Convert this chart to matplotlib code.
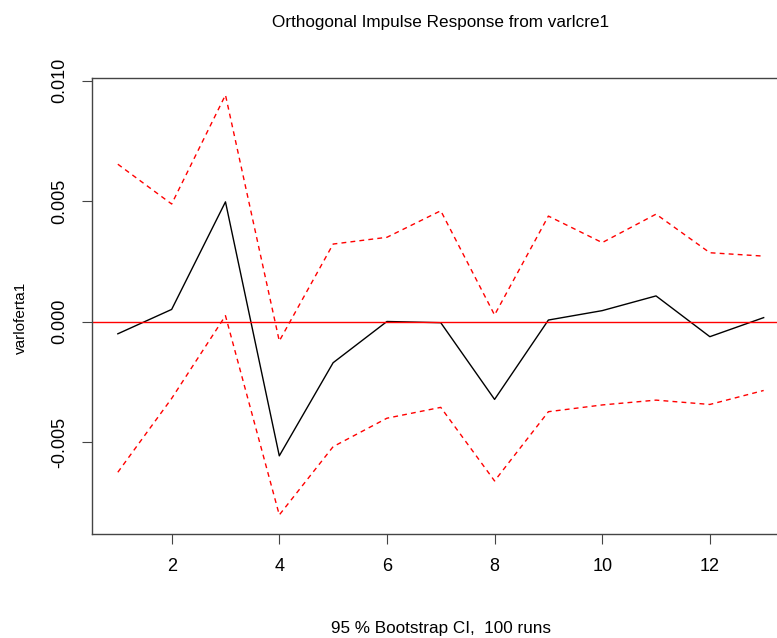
import matplotlib
matplotlib.use("Agg")
import matplotlib.pyplot as plt
import numpy as np

plt.rcParams['font.family'] = ['Liberation Sans', 'DejaVu Sans']

horizon = list(range(1, 14))
irf = [-0.00050, 0.00051, 0.00497, -0.00556, -0.00170, 0.00001, -0.00004,
       -0.00322, 0.00007, 0.00046, 0.00107, -0.00062, 0.00017]
upper = [0.00653, 0.00488, 0.00940, -0.00080, 0.00322, 0.00350, 0.00460,
         0.00028, 0.00438, 0.00328, 0.00446, 0.00286, 0.00272]
lower = [-0.00624, -0.00318, 0.00025, -0.00801, -0.00518, -0.00400, -0.00355,
         -0.00660, -0.00373, -0.00345, -0.00325, -0.00343, -0.00285]
xticks = [2, 4, 6, 8, 10, 12]
yticks = [-0.005, 0.000, 0.005, 0.010]
ytick_labels = ["-0.005", "0.000", "0.005", "0.010"]

W, H = 777, 638
fig = plt.figure(figsize=(W / 100, H / 100), dpi=100)
L, R, T, B = 92, 789.5, 78, 534
ax = fig.add_axes([L / W, 1 - B / H, (R - L) / W, (B - T) / H])

ax.plot(horizon, irf, color='black', lw=1.0)
ax.plot(horizon, upper, color='red', lw=1.0, linestyle=(0, (3.5, 3)))
ax.plot(horizon, lower, color='red', lw=1.0, linestyle=(0, (3.5, 3)))
ax.axhline(0, color='red', lw=1.0)

ax.set_xlim(0.52, 13.48)
ax.set_ylim(-0.0088, 0.010104)
ax.set_xticks(xticks)
ax.set_xticklabels([str(t) for t in xticks])
ax.set_yticks(yticks)
ax.set_yticklabels(ytick_labels, rotation=90, va='center')
ax.tick_params(direction='out', length=7, width=0.8, color='#444444',
               labelsize=13)
ax.tick_params(axis='x', pad=10)
ax.tick_params(axis='y', pad=10)
for s in ax.spines.values():
    s.set_color('#444444')
    s.set_linewidth(1.0)

fig.text(441 / W, 1 - 22 / H, "Orthogonal Impulse Response from varlcre1",
         ha='center', va='center', fontsize=12.3)
fig.text(441 / W, 1 - 629 / H, "95 % Bootstrap CI,  100 runs",
         ha='center', va='center', fontsize=12.3)
fig.text(21 / W, 1 - 318 / H, "varloferta1", rotation=90,
         ha='center', va='center', fontsize=11)

fig.savefig("out.png", dpi=100)
